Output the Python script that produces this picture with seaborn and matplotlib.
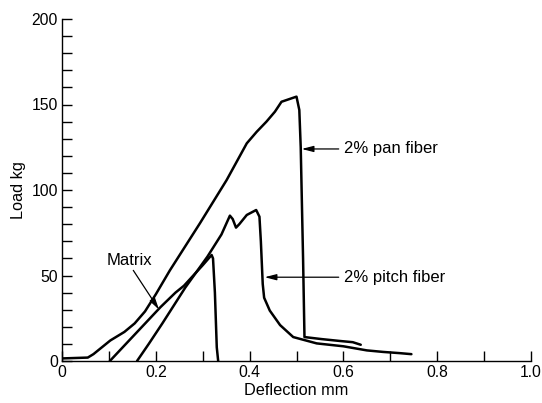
import matplotlib
matplotlib.use("Agg")
import matplotlib.pyplot as plt
import seaborn as sns
import pandas as pd

# ---- data ----
pan_x = [0.0, 0.055, 0.067, 0.103, 0.133, 0.155, 0.177, 0.2, 0.23, 0.294, 0.351, 0.394,
         0.415, 0.436, 0.454, 0.468, 0.5, 0.506, 0.509, 0.514, 0.517, 0.554, 0.593, 0.62, 0.637]
pan_y = [1.5, 2, 4, 12, 17, 22, 29, 39, 53, 80.5, 105.8, 127.3,
         134, 140, 145.8, 151.6, 154.6, 146.8, 125, 60, 14, 12.8, 11.7, 11, 9.5]

pitch_x = [0.16, 0.185, 0.214, 0.263, 0.31, 0.34, 0.358, 0.364, 0.371, 0.378, 0.394, 0.414,
           0.421, 0.424, 0.428, 0.431, 0.443, 0.465, 0.493, 0.543, 0.6, 0.65, 0.685, 0.72, 0.745]
pitch_y = [0, 10, 22, 43, 61, 74, 85, 83, 78, 80, 85.4, 88.3,
           84.4, 70, 45, 37, 29.5, 21, 14, 10.3, 8.6, 6.2, 5.3, 4.6, 4.0]

matrix_x = [0.102, 0.21, 0.242, 0.26, 0.3, 0.319, 0.322, 0.326, 0.33, 0.333]
matrix_y = [0, 31.5, 40, 44, 56, 62, 60, 40, 8, 0]

x_ticks = [0, 0.2, 0.4, 0.6, 0.8, 1.0]
x_tick_labels = ["0", "0.2", "0.4", "0.6", "0.8", "1.0"]
y_ticks = [0, 50, 100, 150, 200]
y_tick_labels = ["0", "50", "100", "150", "200"]

sns.set_style("ticks")
plt.rcParams['font.family'] = ['Liberation Sans', 'DejaVu Sans']
plt.rcParams['text.color'] = 'black'
plt.rcParams['axes.labelcolor'] = 'black'
plt.rcParams['xtick.color'] = 'black'
plt.rcParams['ytick.color'] = 'black'

fig = plt.figure(figsize=(5.42, 4.03), dpi=100)
ax = fig.add_axes([62 / 542, 1 - 361 / 403, (531 - 62) / 542, (361 - 19) / 403])

for xs, ys in [(pan_x, pan_y), (pitch_x, pitch_y), (matrix_x, matrix_y)]:
    df = pd.DataFrame({"x": xs, "y": ys})
    sns.lineplot(data=df, x="x", y="y", sort=False, estimator=None, color="black",
                 linewidth=1.8, ax=ax)

ax.set_xlim(0, 1.0)
ax.set_ylim(0, 200)
ax.set_xticks(x_ticks)
ax.set_xticklabels(x_tick_labels)
ax.set_yticks(y_ticks)
ax.set_yticklabels(y_tick_labels)
ax.set_xticks([0.1, 0.3, 0.5, 0.7, 0.9], minor=True)
ax.set_yticks([v for v in range(10, 200, 10) if v % 50 != 0], minor=True)
ax.tick_params(which="both", direction="in", length=7, width=1, colors="black",
               labelcolor="black", labelsize=11.3, pad=3)
sns.despine(ax=ax)
for s in ["left", "bottom"]:
    ax.spines[s].set_linewidth(1.0)
    ax.spines[s].set_color("black")

ax.set_xlabel("Deflection mm", fontsize=11.7, labelpad=2, color="black")
ax.set_ylabel("Load kg", fontsize=11.7, labelpad=4, color="black")

arrow = dict(arrowstyle="-|>,head_length=0.7,head_width=0.18", color="black", lw=0.9,
             shrinkA=0, shrinkB=0)
ax.annotate("", xy=(0.511, 124), xytext=(0.59, 124), arrowprops=arrow)
ax.text(0.602, 124, "2% pan fiber", fontsize=12, va="center", ha="left", color="black")
ax.annotate("", xy=(0.432, 49), xytext=(0.59, 49), arrowprops=arrow)
ax.text(0.602, 49, "2% pitch fiber", fontsize=12, va="center", ha="left", color="black")
ax.annotate("", xy=(0.207, 30), xytext=(0.152, 53), arrowprops=arrow)
ax.text(0.144, 58.5, "Matrix", fontsize=12, va="center", ha="center", color="black")

fig.savefig("out.png", dpi=100)
